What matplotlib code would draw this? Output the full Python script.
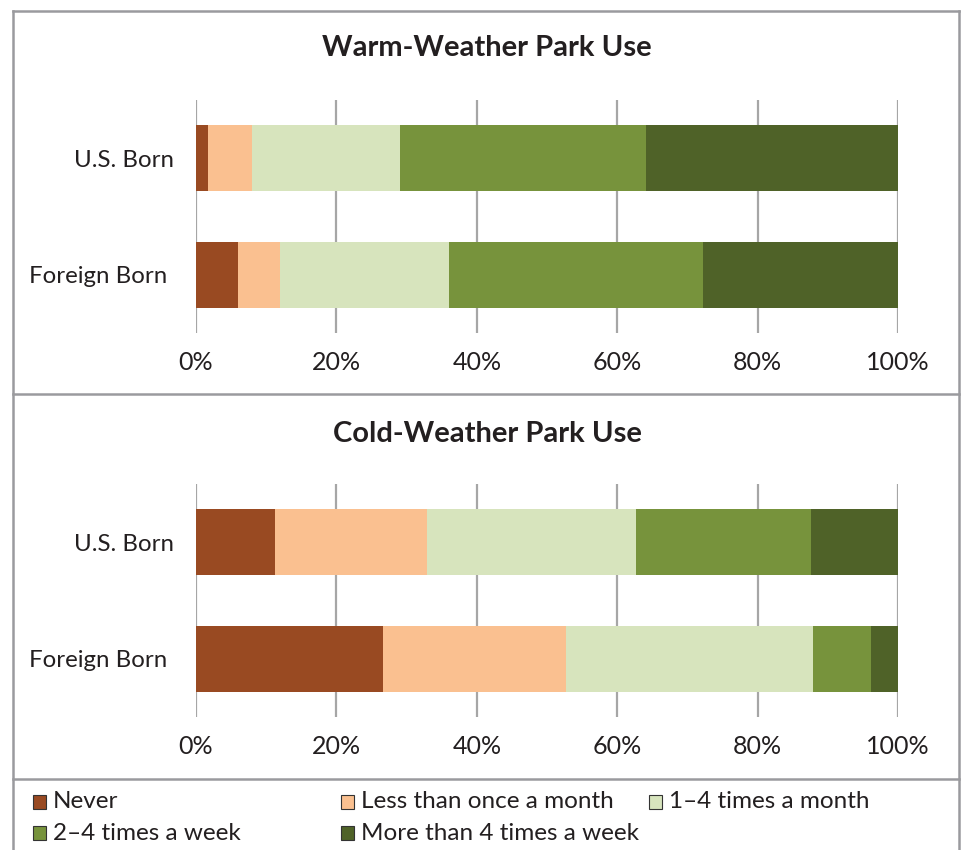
import matplotlib
matplotlib.use("Agg")
import matplotlib.pyplot as plt
import matplotlib.transforms as mtransforms
from matplotlib.lines import Line2D
from matplotlib.patches import Rectangle

# Survey shares (percent of respondents), one list per frequency level
groups = ["U.S. Born", "Foreign Born"]
levels = ["Never", "Less than once a month", "1\u20134 times a month",
          "2\u20134 times a week", "More than 4 times a week"]

warm_never = [1.7, 6.0]
warm_less_monthly = [6.3, 6.0]
warm_monthly = [21.1, 24.0]
warm_weekly = [35.0, 36.2]
warm_often = [35.9, 27.8]

cold_never = [11.2, 26.7]
cold_less_monthly = [21.7, 26.0]
cold_monthly = [29.8, 35.2]
cold_weekly = [24.9, 8.3]
cold_often = [12.4, 3.8]

xticks = [0, 20, 40, 60, 80, 100]
xtick_labels = ["0%", "20%", "40%", "60%", "80%", "100%"]

colors = ["#994A22", "#FAC090", "#D7E4BD", "#77933C", "#4F6228"]
text_color = "#231F20"
grid_color = "#A6A6A6"
border_color = "#9A9A9E"

plt.rcParams["font.family"] = ["Lato", "DejaVu Sans"]

W, H = 961, 850
fig = plt.figure(figsize=(W / 100, H / 100), dpi=100)


def fx(px):
    return px / W


def fy(py):
    return 1 - py / H


def draw_panel(top, bottom, title, title_y, series):
    ax = fig.add_axes([fx(196), fy(bottom), fx(898 - 196), (bottom - top) / H])
    left = [0] * len(groups)
    ypos = list(range(len(groups)))
    for vals, col in zip(series, colors):
        ax.barh(ypos, vals, left=left, height=0.567, color=col, zorder=3)
        left = [a + b for a, b in zip(left, vals)]
    ax.set_xlim(0, 100)
    ax.set_ylim(1.5, -0.5)
    ax.set_xticks(xticks)
    ax.set_xticklabels(xtick_labels)
    ax.set_yticks(ypos)
    ax.set_yticklabels(groups)
    ax.tick_params(axis="x", length=0, pad=13, labelsize=18, colors=text_color)
    ax.tick_params(axis="y", length=0, pad=16, labelsize=17.3, colors=text_color)
    # second category label sits a little further left
    shift = mtransforms.ScaledTranslation(-7 / 100, 0, fig.dpi_scale_trans)
    lab = ax.get_yticklabels()[1]
    lab.set_transform(lab.get_transform() + shift)
    ax.grid(axis="x", color=grid_color, linewidth=1.6, zorder=0)
    for s in ax.spines.values():
        s.set_visible(False)
    fig.text(fx(487), fy(title_y), title, ha="center", va="center",
             fontsize=21, fontweight="bold", color=text_color)
    return ax


draw_panel(100, 333, "Warm-Weather Park Use", 48,
           [warm_never, warm_less_monthly, warm_monthly, warm_weekly, warm_often])
draw_panel(484, 717, "Cold-Weather Park Use", 434,
           [cold_never, cold_less_monthly, cold_monthly, cold_weekly, cold_often])

# Frame lines around the two panels and the key
frame = [((13, 13), (11, 850)), ((959, 959), (11, 850)), ((13, 959), (11, 11)),
         ((13, 959), (394, 394)), ((13, 959), (779, 779))]
for xs, ys in frame:
    fig.add_artist(Line2D([fx(xs[0]), fx(xs[1])], [fy(ys[0]), fy(ys[1])],
                          color=border_color, linewidth=1.8))

# Key
key_pos = [(33, 802), (341, 802), (649, 802), (33, 833), (341, 833)]
for (kx, ky), name, col in zip(key_pos, levels, colors):
    fig.add_artist(Rectangle((fx(kx), fy(ky + 7)), fx(13), 14 / H,
                             facecolor=col, edgecolor="#333333", linewidth=0.8))
    fig.text(fx(kx + 20), fy(ky), name, ha="left", va="center",
             fontsize=17.5, color=text_color)

fig.savefig("out.png", dpi=100)
